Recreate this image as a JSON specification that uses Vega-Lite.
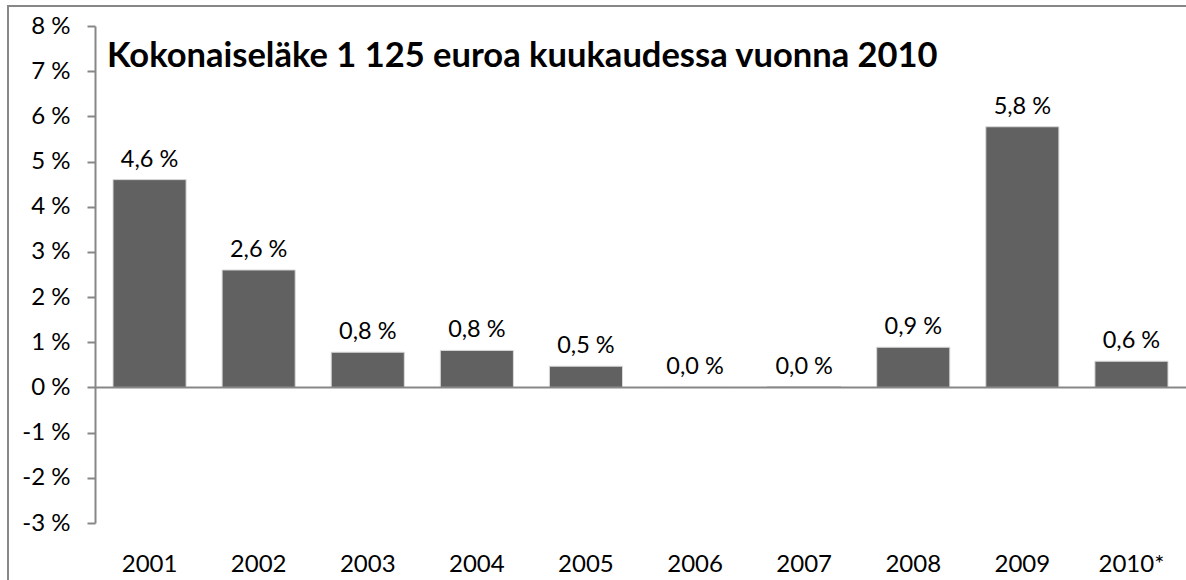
{
  "$schema": "https://vega.github.io/schema/vega-lite/v6.json",
  "autosize": "none",
  "padding": {"left": 8, "top": 6, "right": 0, "bottom": 0},
  "width": 1190,
  "height": 590,
  "background": "white",
  "title": {
    "text": "Kokonaiseläke 1 125 euroa kuukaudessa vuonna 2010",
    "anchor": "start",
    "frame": "group",
    "orient": "top",
    "offset": 0,
    "baseline": "alphabetic",
    "dx": 99,
    "dy": 95,
    "font": "Lato",
    "fontSize": 34.5,
    "fontWeight": "bold",
    "color": "#000000"
  },
  "data": {
    "values": [
      {"year": "2001", "value": 4.6, "label": "4,6 %"},
      {"year": "2002", "value": 2.6, "label": "2,6 %"},
      {"year": "2003", "value": 0.78, "label": "0,8 %"},
      {"year": "2004", "value": 0.82, "label": "0,8 %"},
      {"year": "2005", "value": 0.47, "label": "0,5 %"},
      {"year": "2006", "value": 0.0, "label": "0,0 %"},
      {"year": "2007", "value": 0.02, "label": "0,0 %"},
      {"year": "2008", "value": 0.89, "label": "0,9 %"},
      {"year": "2009", "value": 5.77, "label": "5,8 %"},
      {"year": "2010*", "value": 0.58, "label": "0,6 %"}
    ]
  },
  "encoding": {
    "x": {
      "field": "year",
      "type": "nominal",
      "sort": null,
      "scale": {"range": [87, 1178], "paddingInner": 0.33, "paddingOuter": 0.165},
      "axis": {
        "title": null,
        "orient": "bottom",
        "offset": -209,
        "domain": true,
        "domainColor": "#878787",
        "domainWidth": 2,
        "ticks": false,
        "labelAngle": 0,
        "labelPadding": 177,
        "labelBaseline": "middle",
        "labelFont": "Lato",
        "labelFontSize": 24,
        "labelColor": "#000000",
        "zindex": 1
      }
    },
    "y": {
      "field": "value",
      "type": "quantitative",
      "scale": {"domain": [-3, 8], "range": [517, 20], "nice": false, "zero": false},
      "axis": {
        "title": null,
        "values": [-3, -2, -1, 0, 1, 2, 3, 4, 5, 6, 7, 8],
        "labelExpr": "datum.value + ' %'",
        "offset": -87,
        "grid": false,
        "domainColor": "#878787",
        "domainWidth": 2,
        "tickColor": "#878787",
        "tickWidth": 2,
        "tickSize": 8,
        "labelPadding": 17,
        "labelFont": "Lato",
        "labelFontSize": 24,
        "labelColor": "#000000"
      }
    }
  },
  "layer": [
    {
      "mark": {"type": "bar", "color": "#616161", "stroke": "#d9d9d9", "strokeWidth": 1}
    },
    {
      "mark": {"type": "text", "baseline": "bottom", "dy": -8, "font": "Lato", "fontSize": 23.5, "color": "#000000"},
      "encoding": {"text": {"field": "label"}}
    }
  ],
  "config": {
    "view": {"stroke": "#878787", "strokeWidth": 2},
    "font": "Lato"
  }
}
